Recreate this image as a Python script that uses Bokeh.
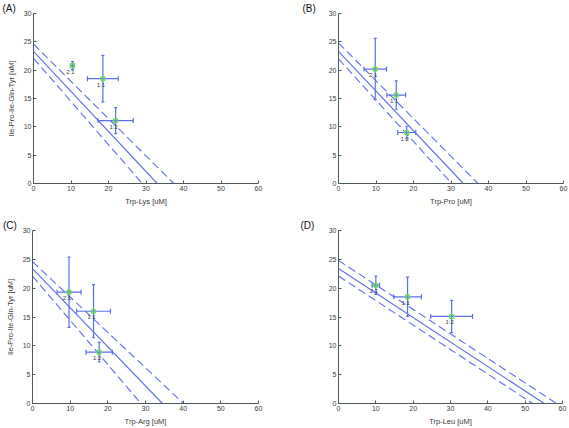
import math
import numpy as np
from bokeh.plotting import figure
from bokeh.layouts import column, row
from bokeh.models import Range1d, FixedTicker
from bokeh.embed import file_html
from bokeh.resources import INLINE
from bokeh.core.properties import value

# ---------------- data ----------------
panel_names = ["(A)", "(B)", "(C)", "(D)"]
x_titles = ["Trp-Lys [uM]", "Trp-Pro [uM]", "Trp-Arg [uM]", "Trp-Leu [uM]"]
y_title = "Ile-Pro-Ile-Gln-Tyr [uM]"
ratio_labels = ["2:1", "1:1", "1:2"]
x_ticks = [0, 10, 20, 30, 40, 50, 60]
y_ticks = [0, 5, 10, 15, 20, 25, 30]

# points: x, y, x error, y error
a_x = [10.4, 18.5, 21.9]
a_y = [20.8, 18.5, 11.1]
a_xerr = [0.5, 4.1, 4.7]
a_yerr = [0.7, 4.1, 2.3]

b_x = [9.8, 15.4, 18.2]
b_y = [20.2, 15.6, 9.0]
b_xerr = [3.0, 2.5, 2.4]
b_yerr = [5.4, 2.5, 1.1]

c_x = [9.7, 16.2, 17.7]
c_y = [19.3, 16.0, 8.9]
c_xerr = [3.2, 4.5, 3.5]
c_yerr = [6.1, 4.6, 1.7]

d_x = [10.0, 18.5, 30.3]
d_y = [20.5, 18.5, 15.1]
d_xerr = [1.0, 3.7, 5.6]
d_yerr = [1.6, 3.4, 2.8]

# isobole lines: [y-intercept, x-intercept]
a_fit, a_upper, a_lower = [23.3, 33.0], [24.6, 37.4], [22.1, 29.0]
b_fit, b_upper, b_lower = [23.3, 33.3], [24.8, 37.2], [22.0, 30.2]
c_fit, c_upper, c_lower = [23.4, 34.5], [24.6, 40.1], [22.1, 28.8]
d_fit, d_upper, d_lower = [23.4, 55.1], [24.8, 58.4], [22.1, 52.0]

# ---------------- style ----------------
BLUE = "#5d6ef0"
GREEN = "#66dd55"
AXIS = "#4f5858"
TXT = "#3a3a3a"
FONT = "Liberation Sans"


def make_panel(name, xt, show_y, xs, ys, xe, ye, fit, upper, lower,
               w, h, bl, br, bt, bb, lab_dx):
    p = figure(width=w, height=h, output_backend="svg", toolbar_location=None,
               x_range=Range1d(0, 60), y_range=Range1d(0, 30),
               min_border_left=bl, min_border_right=br,
               min_border_top=bt, min_border_bottom=bb)
    p.outline_line_color = None
    p.xgrid.visible = False
    p.ygrid.visible = False
    p.background_fill_color = "white"
    p.border_fill_color = "white"

    # panel letter as the title, shifted left over the axis area
    p.title.text = name
    p.title.text_font = FONT
    p.title.text_font_size = "10px"
    p.title.text_font_style = "normal"
    p.title.text_color = "#111111"
    p.title.align = "left"
    p.title.offset = lab_dx
    p.title.standoff = 0

    for ax in (p.xaxis[0], p.yaxis[0]):
        ax.axis_line_color = AXIS
        ax.major_tick_line_color = AXIS
        ax.minor_tick_line_color = None
        ax.major_tick_in = 3
        ax.major_tick_out = 0
        ax.major_label_text_font = FONT
        ax.major_label_text_font_size = "7px"
        ax.major_label_text_color = TXT
        ax.axis_label_text_font = FONT
        ax.axis_label_text_font_size = "7.5px"
        ax.axis_label_text_font_style = "normal"
        ax.axis_label_text_color = TXT
        ax.major_label_standoff = 2
    p.xaxis[0].ticker = FixedTicker(ticks=x_ticks)
    p.yaxis[0].ticker = FixedTicker(ticks=y_ticks)
    p.xaxis[0].axis_label = xt
    p.xaxis[0].axis_label_standoff = 3
    if show_y:
        p.yaxis[0].axis_label = y_title
        p.yaxis[0].axis_label_standoff = 5

    # isobole lines
    p.line([0, fit[1]], [fit[0], 0], line_color=BLUE, line_width=1.1)
    for ln in (upper, lower):
        p.line([0, ln[1]], [ln[0], 0], line_color=BLUE, line_width=1.1,
               line_dash="8 4")

    x = np.array(xs)
    y = np.array(ys)
    dx = np.array(xe)
    dy = np.array(ye)
    # error bars
    p.segment(x0=x - dx, y0=y, x1=x + dx, y1=y, line_color=BLUE, line_width=1.2)
    p.segment(x0=x, y0=y - dy, x1=x, y1=y + dy, line_color=BLUE, line_width=1.2)
    p.scatter(x=np.concatenate([x - dx, x + dx]), y=np.concatenate([y, y]),
              marker="dash", angle=math.pi / 2, size=5, line_color=BLUE,
              line_width=1.2)
    p.scatter(x=np.concatenate([x, x]), y=np.concatenate([y - dy, y + dy]),
              marker="dash", size=3, line_color=BLUE, line_width=1.2)
    # points
    p.scatter(x=x, y=y, marker="circle", size=4.5, line_color=GREEN,
              fill_color=GREEN, fill_alpha=0.25, line_width=1.2)
    p.text(x=x, y=y, text=ratio_labels, x_offset=-2, y_offset=3,
           text_align="center", text_baseline="top",
           text_font=value(FONT), text_font_size="6px", text_color=TXT)
    return p


pa = make_panel(panel_names[0], x_titles[0], True, a_x, a_y, a_xerr, a_yerr,
                a_fit, a_upper, a_lower, 285, 214, 33, 27, 0, 29, -31)
pb = make_panel(panel_names[1], x_titles[1], False, b_x, b_y, b_xerr, b_yerr,
                b_fit, b_upper, b_lower, 284, 214, 53, 6, 0, 31, -36)
pc = make_panel(panel_names[2], x_titles[2], True, c_x, c_y, c_xerr, c_yerr,
                c_fit, c_upper, c_lower, 285, 214, 32, 27, 12, 25, -29.5)
pd = make_panel(panel_names[3], x_titles[3], False, d_x, d_y, d_xerr, d_yerr,
                d_fit, d_upper, d_lower, 284, 214, 53, 7, 16, 21, -38)

layout = column(row(pa, pb), row(pc, pd))
open("out.html", "w").write(file_html(layout, INLINE))
